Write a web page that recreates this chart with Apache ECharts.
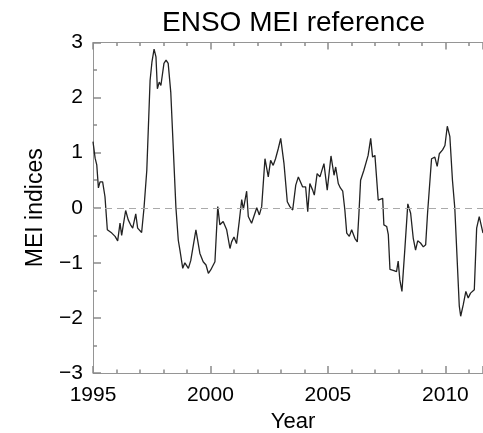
<!DOCTYPE html>
<html><head><meta charset="utf-8">
<script src="https://cdn.jsdelivr.net/npm/echarts@6/dist/echarts.min.js"></script>
<style>html,body{margin:0;padding:0;background:#fff}#c{width:483px;height:433px}</style>
</head><body><div id="c"></div>
<script>
const titleText = 'ENSO MEI reference';
const xName = 'Year';
const yName = 'MEI indices';
const xTickValues = [1995, 2000, 2005, 2010];
const yTickValues = [-3, -2, -1, 0, 1, 2, 3];
const years = [
1995.00,1995.09,1995.16,1995.23,1995.30,1995.41,1995.51,1995.61,1995.80,1995.94,
1996.05,1996.15,1996.22,1996.29,1996.39,1996.50,1996.60,1996.69,1996.74,1996.82,1996.90,1996.97,
1997.07,1997.17,1997.29,1997.43,1997.51,1997.60,1997.68,1997.74,1997.82,1997.89,
1998.02,1998.11,1998.20,1998.31,1998.53,1998.63,1998.70,1998.82,1998.91,
1999.06,1999.16,1999.23,1999.38,1999.55,1999.69,1999.81,1999.91,
2000.01,2000.09,2000.19,2000.31,2000.40,2000.54,2000.69,2000.83,2000.90,
2001.00,2001.11,2001.23,2001.33,2001.40,2001.54,2001.61,2001.75,2001.97,
2002.08,2002.18,2002.32,2002.46,2002.56,2002.67,2002.77,2002.89,2002.99,
2003.13,2003.27,2003.38,2003.50,2003.63,2003.74,2003.81,2003.92,
2004.05,2004.14,2004.23,2004.35,2004.42,2004.54,2004.66,2004.83,2004.97,
2005.13,2005.26,2005.33,2005.44,2005.53,2005.63,2005.72,2005.80,2005.91,
2006.01,2006.15,2006.25,2006.32,2006.39,2006.53,2006.71,2006.82,2006.90,
2007.00,2007.14,2007.21,2007.33,2007.38,2007.50,2007.57,2007.64,2007.81,2007.92,2007.99,
2008.06,2008.15,2008.28,2008.40,2008.52,2008.63,2008.73,2008.82,2008.94,
2009.06,2009.16,2009.24,2009.41,2009.55,2009.65,2009.74,2009.88,2009.98,
2010.08,2010.19,2010.30,2010.40,2010.59,2010.65,2010.76,2010.87,2010.97,
2011.07,2011.23,2011.33,2011.44,2011.50,2011.60
];
const mei = [
1.20,0.90,0.78,0.36,0.47,0.47,0.20,-0.40,-0.46,-0.52,
-0.60,-0.28,-0.50,-0.31,-0.05,-0.22,-0.31,-0.37,-0.35,-0.11,-0.37,-0.40,
-0.45,-0.01,0.68,2.31,2.65,2.88,2.74,2.16,2.28,2.22,
2.62,2.68,2.62,2.10,0.00,-0.59,-0.77,-1.10,-1.00,
-1.10,-0.96,-0.96,-0.40,-0.83,-0.98,-1.04,-1.19,
-1.13,-1.16,-0.98,0.02,-0.31,-0.25,-0.40,-0.74,-0.62,
-0.53,-0.65,-0.23,0.15,-0.03,0.30,-0.16,-0.28,0.00,
-0.13,0.02,0.89,0.56,0.86,0.77,0.89,1.08,1.26,
0.80,0.11,0.02,-0.04,0.41,0.56,0.53,0.38,
0.38,-0.07,0.44,0.32,0.23,0.62,0.56,0.80,0.32,
0.94,0.59,0.74,0.44,0.36,0.30,-0.04,-0.46,-0.52,
-0.40,-0.56,-0.62,-0.10,0.50,0.68,0.95,1.26,0.92,
0.95,0.14,0.11,0.17,-0.31,-0.34,-0.49,-1.12,-1.14,-1.16,-0.97,
-1.31,-1.52,-0.71,0.07,-0.10,-0.55,-0.77,-0.60,-0.64,
-0.71,-0.67,-0.10,0.89,0.92,0.75,0.98,1.05,1.13,
1.48,1.29,0.50,-0.01,-1.78,-1.97,-1.76,-1.52,-1.64,
-1.55,-1.49,-0.37,-0.16,-0.13,-0.46
];
const xMin = 1995, xMax = 2011.6;

const FONT = '"Liberation Sans", Arial, Helvetica, sans-serif';
const AXIS_GRAY = '#959595';
const TICK_GRAY = '#8a8a8a';
const chart = echarts.init(document.getElementById('c'));
const minus = v => String(v).replace('-', '\u2212');
function xAxisCfg(pos, withLabels) {
  return {
    type: 'value', min: xMin, max: xMax, interval: 5, position: pos,
    axisLine: {show: true, onZero: false, lineStyle: {color: AXIS_GRAY, width: 1}},
    axisTick: {show: true, inside: true, length: 7, lineStyle: {color: TICK_GRAY, width: 1.5}},
    minorTick: {show: true, splitNumber: 5, length: 3.5, lineStyle: {color: TICK_GRAY, width: 1.5}},
    splitLine: {show: false}, minorSplitLine: {show: false},
    axisLabel: withLabels ? {
      show: true, margin: 12, fontFamily: FONT, fontSize: 21, color: '#000',
      formatter: v => xTickValues.includes(v) ? String(v) : ''
    } : {show: false}
  };
}
const xBottom = xAxisCfg('bottom', true);
xBottom.name = xName;
xBottom.nameLocation = 'middle';
xBottom.nameGap = 33;
xBottom.nameTextStyle = {fontFamily: FONT, fontSize: 22, color: '#000', padding: [0, 0, 0, 10]};
const xTop = xAxisCfg('top', false);

let err = '';
try {
chart.setOption({
  animation: false,
  backgroundColor: '#fff',
  title: {
    text: titleText, left: 157, top: 4,
    textStyle: {fontFamily: FONT, fontSize: 28, fontWeight: 'normal', color: '#000'}
  },
  grid: {left: 93, right: 0, top: 42.5, bottom: 60, outerBoundsMode: 'none'},
  xAxis: [xBottom, xTop],
  yAxis: [{
    type: 'value', min: -3, max: 3, interval: 1, position: 'left',
    name: yName, nameLocation: 'middle', nameGap: 46,
    nameTextStyle: {fontFamily: FONT, fontSize: 23, color: '#000'},
    axisLine: {show: true, onZero: false, lineStyle: {color: AXIS_GRAY, width: 1}},
    axisTick: {show: true, inside: true, length: 8, lineStyle: {color: TICK_GRAY, width: 1.5}},
    minorTick: {show: true, splitNumber: 2, length: 4, lineStyle: {color: TICK_GRAY, width: 1.5}},
    splitLine: {show: false}, minorSplitLine: {show: false},
    axisLabel: {
      margin: 10, fontFamily: FONT, fontSize: 21, color: '#000',
      formatter: v => yTickValues.includes(v) ? minus(v) : ''
    }
  }],
  series: [{
    type: 'line',
    xAxisIndex: 0, yAxisIndex: 0,
    data: years.map((y, i) => [y, mei[i]]),
    showSymbol: false, symbol: 'none',
    lineStyle: {color: '#222', width: 1.3},
    markLine: {
      silent: true, symbol: ['none', 'none'],
      label: {show: false},
      lineStyle: {type: [7, 5], color: '#aaa', width: 1.2},
      data: [{yAxis: 0}]
    }
  }]
});
} catch (e) { err = String(e && e.message); }
if (err) chart.setOption({graphic: [{type: 'text', left: 100, top: 60, style: {text: 'ERR ' + err, fontSize: 12, fill: 'red'}}]});
</script></body></html>
